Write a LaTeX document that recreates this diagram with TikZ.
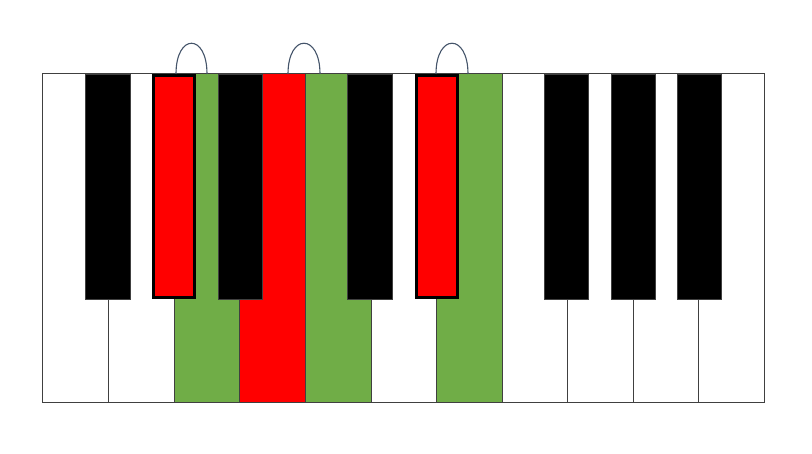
\documentclass[tikz,border=0pt]{standalone}
\definecolor{kgreen}{HTML}{70AD47}
\definecolor{kred}{HTML}{FF0000}
\definecolor{kline}{HTML}{404040}
\definecolor{arcc}{HTML}{44546A}
\tikzset{
  whitekey/.style={draw=kline, line width=1pt, fill=white},
  greenkey/.style={draw=kline, line width=1pt, fill=kgreen},
  redkey/.style={draw=kline, line width=1pt, fill=kred},
  blackkey/.style={draw=kline, line width=0.8pt, fill=black},
  redblack/.style={draw=black, line width=3pt, fill=kred},
  tiearc/.style={draw=arcc, line width=1.1pt}
}
\begin{document}
\begin{tikzpicture}[x=1pt,y=-1pt]
\useasboundingbox (0,0) rectangle (812,454);
% white keys
\draw[whitekey] (42,74) rectangle (108,403);
\draw[whitekey] (108,74) rectangle (174,403);
\draw[greenkey] (174,74) rectangle (239,403);
\draw[redkey] (239,74) rectangle (305,403);
\draw[greenkey] (305,74) rectangle (371,403);
\draw[whitekey] (371,74) rectangle (436,403);
\draw[greenkey] (436,74) rectangle (502,403);
\draw[whitekey] (502,74) rectangle (567,403);
\draw[whitekey] (567,74) rectangle (633,403);
\draw[whitekey] (633,74) rectangle (698,403);
\draw[whitekey] (698,74) rectangle (764,403);
% black keys
\draw[blackkey] (85,74) rectangle (130,299);
\draw[redblack] (153.5,75.5) rectangle (194.5,297.5);
\draw[blackkey] (218,74) rectangle (262,299);
\draw[blackkey] (347,74) rectangle (392,299);
\draw[redblack] (416.5,75.5) rectangle (457.5,297.5);
\draw[blackkey] (544,74) rectangle (588,299);
\draw[blackkey] (611,74) rectangle (655,299);
\draw[blackkey] (677,74) rectangle (721,299);
% tie arcs
\draw[tiearc] (176,74) .. controls (176,33) and (207,33) .. (207,74);
\draw[tiearc] (288,74) .. controls (288,33) and (320,33) .. (320,74);
\draw[tiearc] (436,74) .. controls (436,33) and (468,33) .. (468,74);
\end{tikzpicture}
\end{document}
